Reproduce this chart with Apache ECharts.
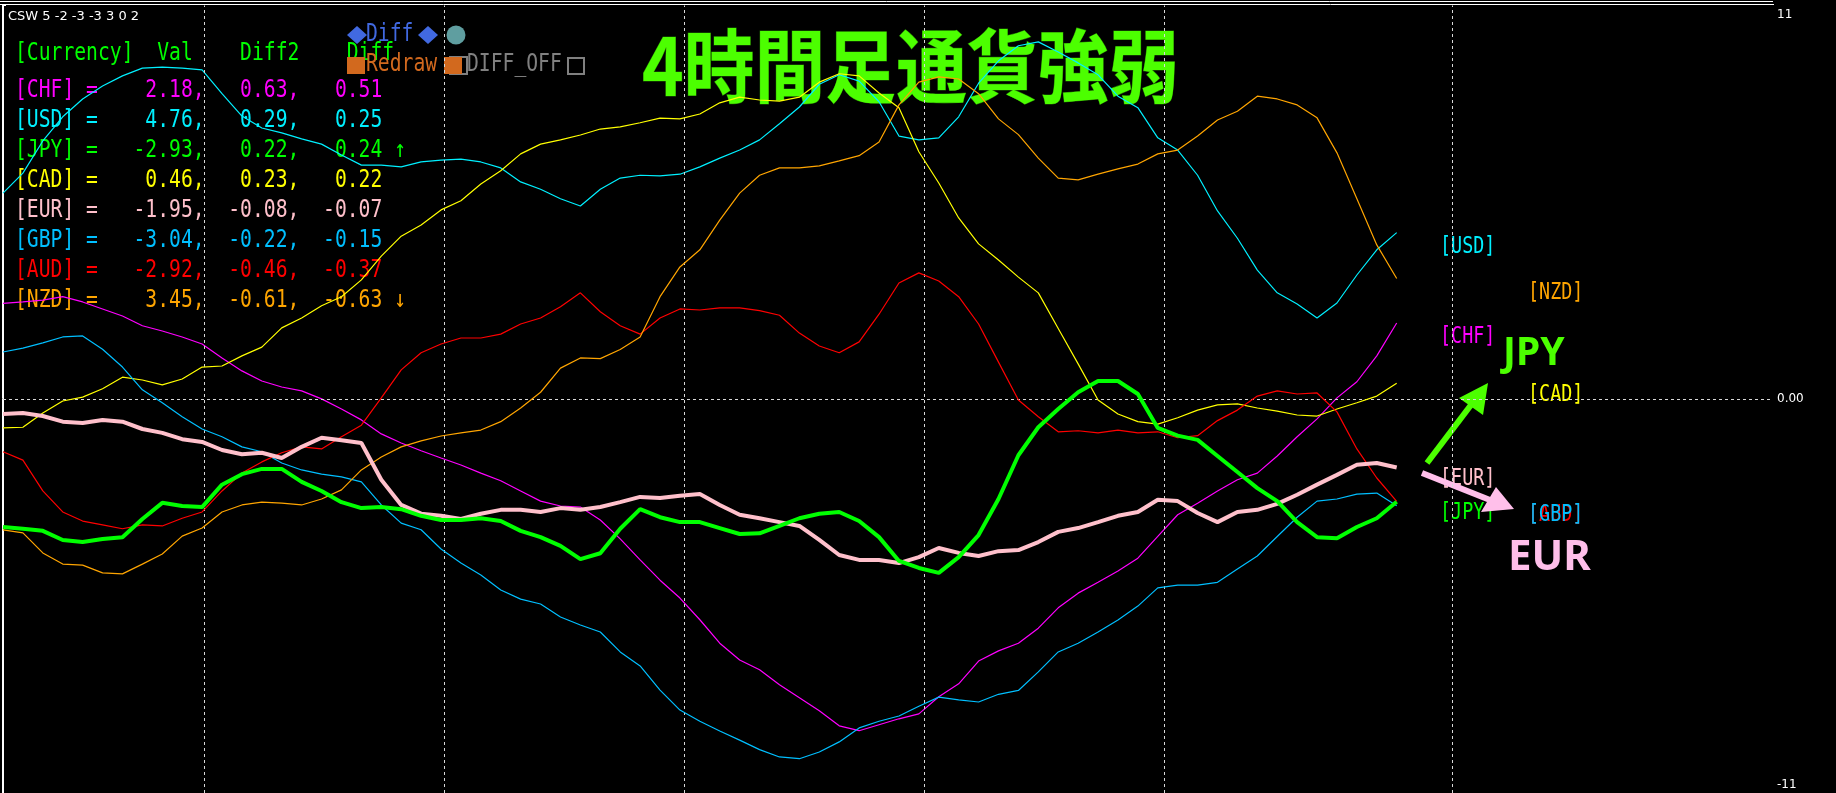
<!DOCTYPE html>
<html><head><meta charset="utf-8">
<script src="https://cdn.jsdelivr.net/npm/echarts@6/dist/echarts.min.js"></script>
<style>html,body{margin:0;padding:0;background:#000;overflow:hidden}#c{width:1836px;height:793px}</style>
</head><body><div id="c"></div>
<script>
// ---- data ----
const USD = [5.89,6.46,7.38,8.07,8.58,8.95,9.24,9.46,9.49,9.46,
 9.41,8.73,8.09,7.75,7.61,7.44,7.29,6.98,6.69,6.69,
 6.64,6.78,6.83,6.86,6.78,6.61,6.21,6.00,5.73,5.52,
 6.00,6.32,6.40,6.38,6.43,6.64,6.89,7.12,7.41,7.87,
 8.35,9.00,9.27,9.09,8.50,7.52,7.41,7.47,8.07,9.03,
 9.67,10.10,10.21,9.92,9.61,9.27,8.66,8.33,7.47,7.12,
 6.40,5.38,4.60,3.69,3.04,2.72,2.32,2.75,3.55,4.27,
 4.76];
const CHF = [2.74,2.78,2.83,2.93,2.78,2.58,2.38,2.10,1.95,1.78,
 1.58,1.18,0.81,0.52,0.35,0.24,0.01,-0.28,-0.59,-0.99,
 -1.25,-1.47,-1.68,-1.88,-2.11,-2.33,-2.62,-2.91,-3.05,-3.08,
 -3.45,-3.99,-4.59,-5.17,-5.68,-6.30,-6.97,-7.45,-7.73,-8.16,
 -8.53,-8.90,-9.33,-9.47,-9.30,-9.13,-8.99,-8.50,-8.13,-7.48,
 -7.19,-6.97,-6.54,-5.96,-5.54,-5.23,-4.91,-4.54,-3.92,-3.30,
 -2.97,-2.62,-2.30,-2.11,-1.62,-1.07,-0.56,0.04,0.50,1.24,
 2.18];
const JPY = [-3.65,-3.70,-3.76,-4.02,-4.08,-3.99,-3.94,-3.42,-2.96,-3.05,
 -3.08,-2.44,-2.14,-1.99,-1.99,-2.36,-2.62,-2.94,-3.11,-3.08,
 -3.14,-3.33,-3.45,-3.45,-3.40,-3.48,-3.76,-3.94,-4.19,-4.57,
 -4.40,-3.70,-3.14,-3.37,-3.51,-3.51,-3.68,-3.85,-3.83,-3.62,
 -3.40,-3.27,-3.22,-3.48,-3.94,-4.62,-4.82,-4.96,-4.51,-3.88,
 -2.85,-1.60,-0.80,-0.28,0.20,0.52,0.52,0.15,-0.82,-1.04,
 -1.16,-1.62,-2.08,-2.54,-2.91,-3.51,-3.94,-3.97,-3.65,-3.40,
 -2.93];
const EUR = [-0.42,-0.39,-0.48,-0.64,-0.68,-0.59,-0.64,-0.85,-0.96,-1.14,
 -1.22,-1.45,-1.57,-1.53,-1.68,-1.36,-1.10,-1.17,-1.25,-2.30,
 -3.02,-3.27,-3.33,-3.42,-3.27,-3.16,-3.16,-3.22,-3.11,-3.16,
 -3.08,-2.94,-2.79,-2.82,-2.76,-2.71,-3.02,-3.30,-3.40,-3.51,
 -3.62,-4.02,-4.45,-4.59,-4.59,-4.68,-4.51,-4.25,-4.39,-4.48,
 -4.34,-4.31,-4.08,-3.79,-3.68,-3.51,-3.33,-3.22,-2.87,-2.91,
 -3.25,-3.51,-3.22,-3.16,-2.99,-2.73,-2.44,-2.16,-1.87,-1.82,
 -1.95];
const CAD = [-0.82,-0.80,-0.39,-0.05,0.06,0.30,0.63,0.55,0.41,0.58,
 0.92,0.95,1.24,1.49,2.04,2.32,2.67,2.93,3.41,4.09,
 4.66,4.98,5.41,5.67,6.15,6.53,7.01,7.29,7.41,7.55,
 7.72,7.78,7.90,8.03,8.01,8.15,8.47,8.63,8.55,8.52,
 8.63,9.06,9.30,9.24,8.75,8.33,7.07,6.18,5.18,4.44,
 3.98,3.49,3.04,2.02,1.01,-0.02,-0.42,-0.64,-0.71,-0.53,
 -0.31,-0.16,-0.13,-0.25,-0.34,-0.45,-0.48,-0.28,-0.10,0.09,
 0.46];
const GBP = [1.35,1.46,1.61,1.78,1.81,1.43,0.92,0.27,-0.10,-0.50,
 -0.85,-1.07,-1.36,-1.50,-1.82,-2.02,-2.14,-2.22,-2.36,-3.02,
 -3.54,-3.73,-4.28,-4.68,-5.02,-5.45,-5.71,-5.85,-6.22,-6.45,
 -6.65,-7.22,-7.62,-8.31,-8.88,-9.20,-9.48,-9.74,-10.01,-10.22,
 -10.27,-10.08,-9.79,-9.39,-9.20,-9.05,-8.77,-8.51,-8.59,-8.65,
 -8.43,-8.32,-7.79,-7.22,-6.97,-6.65,-6.31,-5.91,-5.39,-5.31,
 -5.31,-5.23,-4.85,-4.48,-3.92,-3.37,-2.91,-2.85,-2.71,-2.68,
 -3.04];
const AUD = [-1.50,-1.74,-2.62,-3.22,-3.48,-3.59,-3.70,-3.59,-3.62,-3.40,
 -3.22,-2.62,-2.11,-1.79,-1.53,-1.36,-1.42,-1.07,-0.74,0.04,
 0.84,1.33,1.58,1.75,1.75,1.86,2.15,2.32,2.64,3.04,
 2.50,2.10,1.86,2.32,2.58,2.55,2.61,2.61,2.53,2.40,
 1.89,1.52,1.33,1.64,2.43,3.32,3.61,3.38,2.93,2.15,
 1.06,-0.02,-0.50,-0.93,-0.90,-0.96,-0.88,-0.96,-0.93,-1.10,
 -1.04,-0.61,-0.31,0.09,0.24,0.15,0.18,-0.36,-1.42,-2.25,
 -2.92];
const NZD = [-3.73,-3.82,-4.39,-4.71,-4.74,-4.96,-4.99,-4.71,-4.42,-3.91,
 -3.68,-3.22,-3.02,-2.94,-2.97,-3.02,-2.85,-2.59,-2.02,-1.65,
 -1.36,-1.19,-1.05,-0.96,-0.88,-0.64,-0.25,0.20,0.89,1.18,
 1.16,1.42,1.78,2.93,3.78,4.27,5.12,5.89,6.40,6.61,
 6.61,6.67,6.81,6.96,7.35,8.41,9.06,9.21,9.15,8.73,
 8.01,7.56,6.89,6.32,6.27,6.43,6.58,6.72,7.01,7.12,
 7.52,7.98,8.23,8.66,8.58,8.41,8.04,7.04,5.73,4.41,
 3.45];

// table (top-left panel)
const tableCurrencies = ['CHF','USD','JPY','CAD','EUR','GBP','AUD','NZD'];
const tableVal   = ['2.18','4.76','-2.93','0.46','-1.95','-3.04','-2.92','3.45'];
const tableDiff2 = ['0.63','0.29','0.22','0.23','-0.08','-0.22','-0.46','-0.61'];
const tableDiff  = ['0.51','0.25','0.24','0.22','-0.07','-0.15','-0.37','-0.63'];
const tableMark  = ['','','↑','','','','','↓'];

// axis
const timeSeparators = [10.10, 22.15, 34.20, 46.26, 58.31, 72.78]; // in bar-index units
const yTickValues = [-11.25, 0, 11.25];
const yTickLabels = ['-11', '0.00', '11'];

// ---- styles ----
const COLORS = {CHF:'#FF00FF', USD:'#00F0FF', JPY:'#00FF00', CAD:'#FFFF00', EUR:'#FFC0CB', GBP:'#00BFFF', AUD:'#FF0000', NZD:'#FFA500'};
const SERIES_DATA = {CHF, USD, JPY, CAD, EUR, GBP, AUD, NZD};
const DRAW_ORDER = ['CHF','USD','CAD','GBP','AUD','NZD','EUR','JPY'];
const THICK = {JPY:4, EUR:4};

const MONO = '"DejaVu Sans Mono", monospace';
function mono(txt, x, y, color, size, sx) {
  return { type:'text', x:x, y:y, scaleX:(sx || 0.82), silent:true,
    style:{ text:txt, fill:color, font: (size||24) + 'px ' + MONO, textAlign:'left', textVerticalAlign:'middle' } };
}

const graphics = [];
// window frame
graphics.push({type:'line', silent:true, shape:{x1:0,y1:1.5,x2:1773,y2:1.5}, style:{stroke:'#FFFFFF', lineWidth:1}});
graphics.push({type:'line', silent:true, shape:{x1:0,y1:4.5,x2:1774,y2:4.5}, style:{stroke:'#FFFFFF', lineWidth:1}});
graphics.push({type:'line', silent:true, shape:{x1:2.5,y1:4,x2:2.5,y2:793}, style:{stroke:'#FFFFFF', lineWidth:1}});

// indicator short name
graphics.push({type:'text', x:8, y:17, silent:true, style:{text:'CSW 5 -2 -3 -3 3 0 2', fill:'#FFFFFF', font:'13px "DejaVu Sans"', textVerticalAlign:'middle'}});

// title
graphics.push({type:'text', x:642, y:66, scaleX:0.885, silent:true,
  style:{text:'4時間足通貨強弱', fill:'#4CFF00', font:'bold 80px "Noto Sans CJK JP"', textVerticalAlign:'middle', stroke:'#1F6600', lineWidth:1}});

// table
const X0 = 15;
graphics.push(mono('[Currency]  Val    Diff2    Diff', X0, 54, '#00FF00'));
tableCurrencies.forEach(function(c, i){
  const row = ('[' + c + '] =') + (tableVal[i] + ',').padStart(9) + (tableDiff2[i] + ',').padStart(8) + tableDiff[i].padStart(7) + (tableMark[i] ? ' ' + tableMark[i] : '');
  graphics.push(mono(row, X0, 91 + i*30, COLORS[c]));
});

// buttons
graphics.push({type:'polygon', silent:true, shape:{points:[[347,35],[357,26],[367,35],[357,44]]}, style:{fill:'#4169E1'}});
graphics.push(mono('Diff', 366, 35, '#4169E1'));
graphics.push({type:'polygon', silent:true, shape:{points:[[418,35],[428,26],[438,35],[428,44]]}, style:{fill:'#4169E1'}});
graphics.push({type:'circle', silent:true, shape:{cx:456, cy:35, r:9.5}, style:{fill:'#5F9EA0'}});
graphics.push({type:'rect', silent:true, shape:{x:450,y:57,width:17,height:17}, style:{fill:'none', stroke:'#808080', lineWidth:2}});
graphics.push({type:'rect', silent:true, shape:{x:347,y:57,width:18,height:17}, style:{fill:'#D2691E'}});
graphics.push(mono('Redraw', 366, 65, '#D2691E'));
graphics.push({type:'rect', silent:true, shape:{x:444,y:57,width:18,height:17}, style:{fill:'#D2691E'}});
graphics.push(mono('DIFF_OFF', 467, 65, '#808080'));
graphics.push({type:'rect', silent:true, shape:{x:568,y:58,width:16,height:16}, style:{fill:'none', stroke:'#808080', lineWidth:2}});

// right-side currency tags
const tags = [['USD',1440,247],['NZD',1528,293],['CHF',1440,337],['CAD',1528,395],['EUR',1440,479],['JPY',1440,513],['AUD',1528,515],['GBP',1528,515]];
tags.forEach(function(t){ graphics.push(mono('[' + t[0] + ']', t[1], t[2], COLORS[t[0]], 23, 0.8)); });

// arrows and big labels
graphics.push({type:'line', silent:true, shape:{x1:1427,y1:463,x2:1474,y2:401}, style:{stroke:'#4CFF00', lineWidth:6}});
graphics.push({type:'polygon', silent:true, shape:{points:[[1488,383],[1459,398],[1483,415]]}, style:{fill:'#4CFF00'}});
graphics.push({type:'text', x:1503, y:354, silent:true, style:{text:'JPY', fill:'#4CFF00', font:'bold 39px "Noto Sans"', textVerticalAlign:'middle'}});
graphics.push({type:'line', silent:true, shape:{x1:1422,y1:473,x2:1490,y2:500}, style:{stroke:'#FFBFEA', lineWidth:6}});
graphics.push({type:'polygon', silent:true, shape:{points:[[1514,509],[1481,512],[1496,487]]}, style:{fill:'#FFBFEA'}});
graphics.push({type:'text', x:1508, y:558, silent:true, style:{text:'EUR', fill:'#FFBFEA', font:'bold 42px "Noto Sans"', textVerticalAlign:'middle'}});

// ---- series ----
const series = DRAW_ORDER.map(function(c, k){
  const s = {
    type:'line', name:c, silent:true, animation:false,
    showSymbol:false, symbol:'none',
    data: SERIES_DATA[c].map(function(v, i){ return [i, v]; }),
    lineStyle:{color:COLORS[c], width:THICK[c] || 1.2},
    itemStyle:{color:COLORS[c]},
    z: 3 + k
  };
  if (k === 0) {
    s.markLine = {
      silent:true, symbol:'none', animation:false, label:{show:false},
      lineStyle:{color:'#D8D8D8', width:1, type:[3,3]},
      data: timeSeparators.map(function(v){ return {xAxis:v}; }).concat([{yAxis:0}])
    };
  }
  return s;
});

const chart = echarts.init(document.getElementById('c'), null, {width:1836, height:793});
chart.setOption({
  backgroundColor:'#000000',
  animation:false,
  grid:{left:3, right:64, top:5.5, bottom:0, containLabel:false},
  xAxis:{type:'value', min:0, max:88.85, show:false},
  yAxis:{
    type:'value', position:'right', min:yTickValues[0], max:yTickValues[2], interval:11.25,
    axisLine:{show:true, lineStyle:{color:'#FFFFFF', width:1}},
    axisTick:{show:true, length:3, lineStyle:{color:'#FFFFFF'}},
    splitLine:{show:false},
    axisLabel:{
      show:true, showMinLabel:true, showMaxLabel:true, margin:5,
      color:'#FFFFFF', fontSize:12, fontFamily:'"DejaVu Sans"',
      formatter:function(v){
        const i = yTickValues.indexOf(v);
        const t = i >= 0 ? yTickLabels[i] : '';
        if (i === 2) return '{t|' + t + '}';
        if (i === 0) return '{b|' + t + '}';
        return t;
      },
      rich:{
        t:{color:'#FFFFFF', fontSize:12, fontFamily:'"DejaVu Sans"', padding:[18,0,0,0]},
        b:{color:'#FFFFFF', fontSize:12, fontFamily:'"DejaVu Sans"', padding:[0,0,16,0]}
      }
    }
  },
  graphic:{elements:graphics},
  series:series
});
</script>
</body></html>
